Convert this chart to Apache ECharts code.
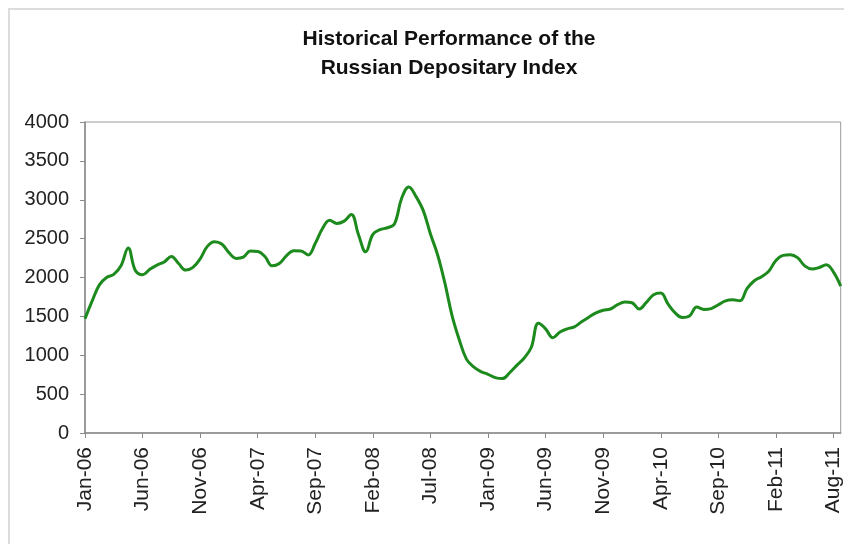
<!DOCTYPE html>
<html>
<head>
<meta charset="utf-8">
<script src="https://cdn.jsdelivr.net/npm/echarts@6/dist/echarts.min.js"></script>
<style>
  html, body { margin: 0; padding: 0; background: #fff; }
  #chart { width: 844px; height: 544px; }
</style>
</head>
<body>
<div id="chart"></div>
<script>
// tick labels, one every 8 points
const tickLabels = ["Jan-06", "Jun-06", "Nov-06", "Apr-07", "Sep-07", "Feb-08", "Jul-08",
  "Jan-09", "Jun-09", "Nov-09", "Apr-10", "Sep-10", "Feb-11", "Aug-11"];
const perTick = 8;

// index level
const rdxValues = [
  1470, 1700, 1905, 2000, 2040, 2150, 2380, 2090,
  2035, 2105, 2160, 2200, 2270, 2180, 2095, 2130,
  2240, 2400, 2460, 2430, 2320, 2245, 2262, 2340,
  2335, 2270, 2150, 2180, 2280, 2345, 2342, 2290,
  2440, 2630, 2735, 2695, 2725, 2810, 2550, 2330,
  2555, 2615, 2640, 2690, 3020, 3165, 3040, 2860,
  2560, 2290, 1930, 1510, 1200, 950, 850, 790,
  755, 712, 700, 775, 870, 962, 1100, 1410,
  1340, 1225, 1300, 1340, 1365, 1430, 1490, 1545,
  1578, 1595, 1650, 1685, 1675, 1595, 1680, 1778,
  1800, 1660, 1545, 1485, 1505, 1619, 1590, 1600,
  1650, 1700, 1713, 1700, 1860, 1958, 2010, 2080,
  2220, 2285, 2293, 2255, 2150, 2110, 2128, 2164,
  2070, 1890
];

const categories = rdxValues.map((v, i) =>
  i % perTick === 0 && tickLabels[i / perTick] ? tickLabels[i / perTick] : "");

const chart = echarts.init(document.getElementById("chart"));
chart.setOption({
  animation: false,
  backgroundColor: "#fff",
  graphic: [
    {
      type: "rect",
      shape: { x: 9, y: 9, width: 900, height: 600 },
      style: { fill: "none", stroke: "#dcdcdc", lineWidth: 2 },
    },
  ],
  // chart area is wider than the window, so the title sits right of centre
  title: {
    text: "Historical Performance of the\nRussian Depositary Index",
    left: 444,
    top: 20,
    textAlign: "center",
    textStyle: {
      fontFamily: "Liberation Sans",
      fontSize: 21,
      fontWeight: "bold",
      lineHeight: 29,
      color: "#111",
    },
  },
  grid: {
    left: 85,
    right: 1,
    top: 122,
    bottom: 111,
    show: true,
    borderColor: "#9a9a9a",
    borderWidth: 1,
  },
  xAxis: {
    type: "category",
    data: categories,
    boundaryGap: false,
    axisLine: { lineStyle: { color: "#8a8a8a", width: 1.5 } },
    axisTick: { interval: perTick - 1, length: 5, lineStyle: { color: "#8a8a8a" } },
    axisLabel: {
      interval: perTick - 1,
      rotate: 90,
      margin: 14,
      fontFamily: "Liberation Sans",
      fontSize: 21,
      color: "#222",
    },
  },
  yAxis: {
    type: "value",
    min: 0,
    max: 4000,
    interval: 500,
    splitLine: { show: false },
    axisLine: { show: true, lineStyle: { color: "#8a8a8a", width: 1.5 } },
    axisTick: { show: true, length: 5, lineStyle: { color: "#8a8a8a" } },
    axisLabel: {
      margin: 16,
      fontFamily: "Liberation Sans",
      fontSize: 20,
      color: "#222",
      formatter: (v) => String(v),
    },
  },
  series: [
    {
      name: "RDX",
      type: "line",
      data: rdxValues,
      smooth: 0.4,
      symbol: "none",
      lineStyle: { color: "#1c8a1c", width: 3 },
    },
  ],
});
</script>
</body>
</html>
